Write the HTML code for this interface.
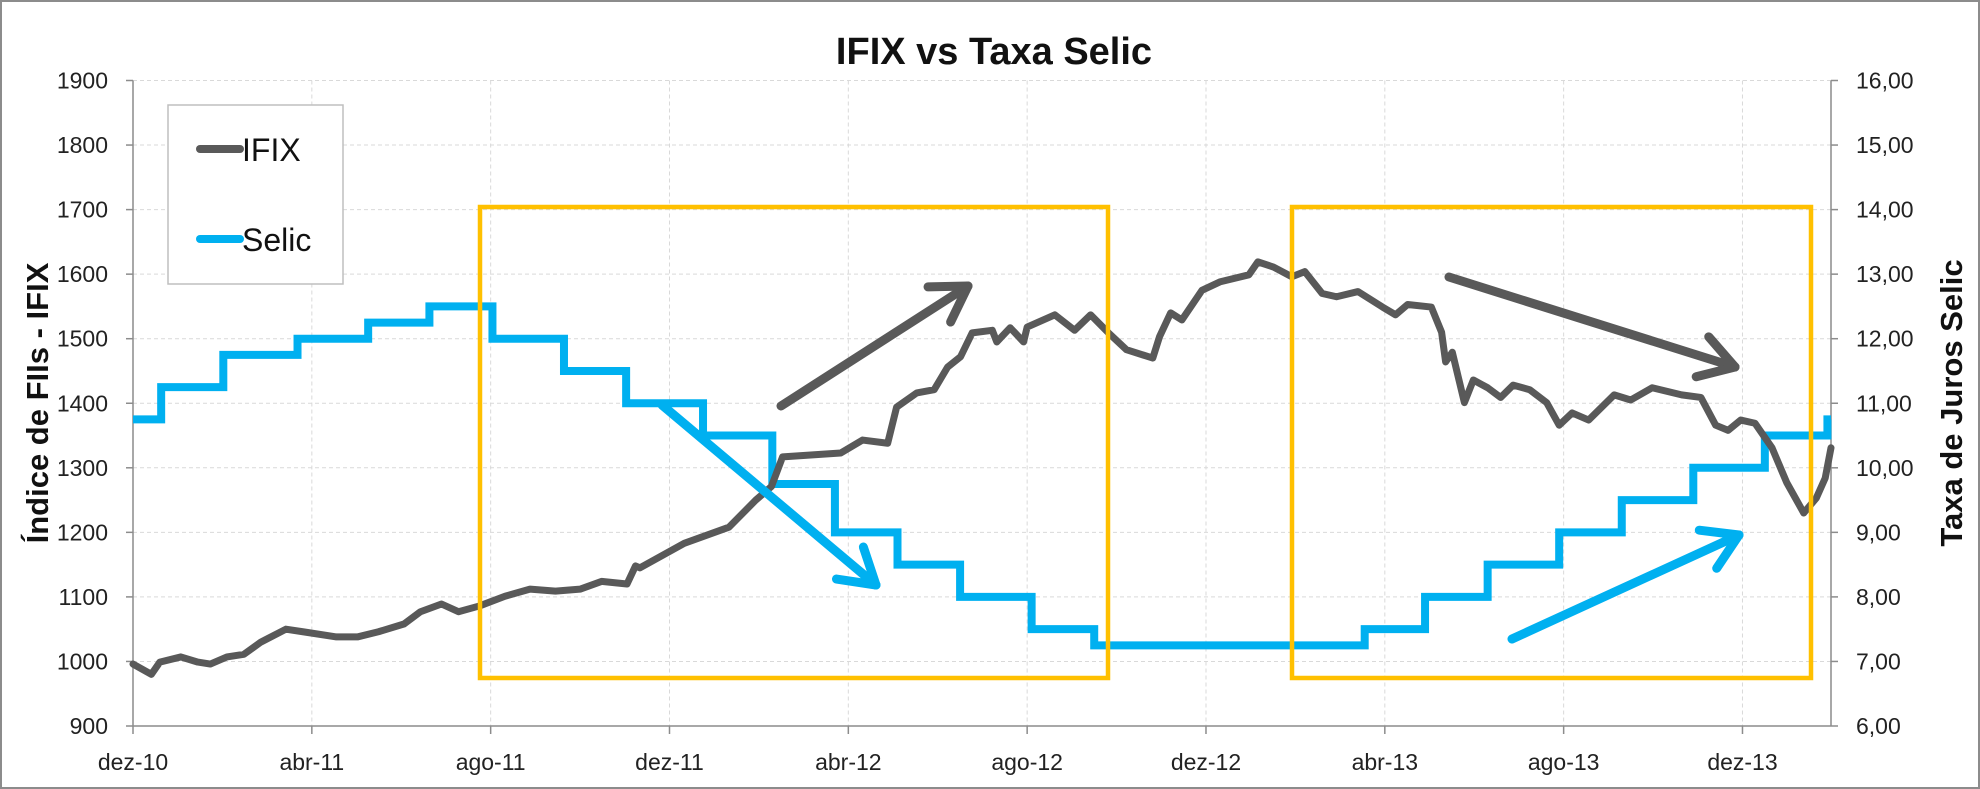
<!DOCTYPE html>
<html><head><meta charset="utf-8">
<style>
html,body{margin:0;padding:0;background:#fff;}
#wrap{position:relative;width:1980px;height:789px;overflow:hidden;background:#fff;}
svg text{font-family:"Liberation Sans",sans-serif;}
</style></head>
<body>
<div id="wrap">
<svg id="chart" width="1980" height="789" viewBox="0 0 1980 789" xmlns="http://www.w3.org/2000/svg">
  <rect x="1" y="1" width="1978" height="787" fill="#fff" stroke="#8c8c8c" stroke-width="2"/>
  <text x="994" y="64" text-anchor="middle" font-size="38" font-weight="bold" fill="#111">IFIX vs Taxa Selic</text>
  <g id="grid"></g>
  <g id="axes"></g>
  <g id="series"></g>
  <g id="annot"></g>
  <text transform="translate(48,403) rotate(-90)" text-anchor="middle" font-size="31" font-weight="bold" fill="#111">Índice de FIIs - IFIX</text>
  <text transform="translate(1962,403) rotate(-90)" text-anchor="middle" font-size="31" font-weight="bold" fill="#111">Taxa de Juros Selic</text>
  <g>
    <rect x="168" y="105" width="175" height="179" fill="#fff" stroke="#bfbfbf" stroke-width="1.5"/>
    <line x1="200" y1="149" x2="240" y2="149" stroke="#595959" stroke-width="8" stroke-linecap="round"/>
    <text x="242" y="161" font-size="32" fill="#111">IFIX</text>
    <line x1="200" y1="239" x2="240" y2="239" stroke="#00b0f0" stroke-width="8" stroke-linecap="round"/>
    <text x="242" y="251" font-size="32" fill="#111">Selic</text>
  </g>
</svg>
</div>
<script>
// ---- data ----
const xTickLabels = ["dez-10","abr-11","ago-11","dez-11","abr-12","ago-12","dez-12","abr-13","ago-13","dez-13"];
const xTickMonths = [0,4,8,12,16,20,24,28,32,36];
const leftTicks = [900,1000,1100,1200,1300,1400,1500,1600,1700,1800,1900];
const rightTicks = ["6,00","7,00","8,00","9,00","10,00","11,00","12,00","13,00","14,00","15,00","16,00"];
const ifixMonths = [0,0.41,0.6,1.07,1.45,1.73,2.1,2.48,2.86,3.42,3.8,4.55,5.02,5.49,6.06,6.43,6.9,7.28,7.75,8.32,8.88,9.45,10.0,10.48,11.05,11.24,11.34,12.33,13.33,13.93,14.28,14.53,15.83,16.32,16.88,17.08,17.53,17.92,18.22,18.51,18.77,19.22,19.32,19.62,19.92,20.0,20.62,21.06,21.42,21.82,22.22,22.81,22.96,23.21,23.46,23.91,24.31,24.96,25.16,25.51,25.92,26.21,26.6,26.92,27.4,27.95,28.24,28.51,29.04,29.27,29.36,29.51,29.78,29.98,30.3,30.59,30.87,31.24,31.62,31.9,32.19,32.56,33.13,33.5,33.98,34.64,35.07,35.4,35.68,35.96,36.28,36.66,36.99,37.37,37.65,37.85,37.98];
const ifixValues = [996,980,999,1007,999,996,1007,1011,1030,1050,1046,1038,1038,1046,1058,1077,1089,1077,1086,1101,1112,1109,1112,1124,1120,1148,1145,1183,1208,1250,1271,1317,1323,1343,1338,1394,1416,1421,1456,1472,1509,1513,1495,1517,1495,1518,1537,1513,1537,1509,1483,1470,1503,1540,1529,1575,1588,1599,1619,1611,1596,1604,1570,1565,1573,1549,1537,1553,1549,1510,1464,1479,1401,1436,1424,1409,1428,1421,1401,1366,1385,1374,1413,1405,1424,1413,1409,1366,1358,1374,1369,1331,1277,1230,1253,1284,1331];
const selicMonths = [0,0.63,2.02,3.68,5.26,6.63,8.04,9.64,11.03,12.75,14.3,15.7,17.1,18.5,20.1,21.5,27.55,28.9,30.3,31.9,33.3,34.9,36.5,37.9];
const selicValues = [10.75,11.25,11.75,12.0,12.25,12.5,12.0,11.5,11.0,10.5,9.75,9.0,8.5,8.0,7.5,7.25,7.5,8.0,8.5,9.0,9.5,10.0,10.5,10.75];
const xEnd = 37.98;

// ---- scales ----
const PL=133, PR=1831, PT=80.5, PB=726;
function xs(m){return PL+(m/xEnd)*(PR-PL);}
function yl(v){return PB-(v-900)/1000*(PB-PT);}
function yr(v){return PB-(v-6)/10*(PB-PT);}
const NS="http://www.w3.org/2000/svg";
function mk(tag,attrs,parent){const e=document.createElementNS(NS,tag);for(const k in attrs)e.setAttribute(k,attrs[k]);parent.appendChild(e);return e;}

const grid=document.getElementById('grid'), axes=document.getElementById('axes'), series=document.getElementById('series'), annot=document.getElementById('annot');

leftTicks.forEach((v,i)=>{
  const y=yl(v);
  if(i>0){const g=mk('line',{x1:PL,x2:PR,y1:y,y2:y,stroke:'#d9d9d9','stroke-width':1,'stroke-dasharray':'4,3'},grid);
  
  }
  const tk=mk('line',{x1:PL-7,x2:PL,y1:y,y2:y,stroke:'#8c8c8c','stroke-width':1.5},axes);
  
  
  const t=mk('text',{x:PL-25,y:y+8,'text-anchor':'end','font-size':23,fill:'#222'},axes);
  t.textContent=v;
  
  
});
rightTicks.forEach((s,i)=>{
  const y=yr(6+i);
  const tk=mk('line',{x1:PR,x2:PR+7,y1:y,y2:y,stroke:'#8c8c8c','stroke-width':1.5},axes);
  
  
  const t=mk('text',{x:PR+25,y:y+8,'text-anchor':'start','font-size':23,fill:'#222'},axes);
  t.textContent=s;
  
  
});
xTickMonths.forEach((m,i)=>{
  const x=xs(m);
  if(i>0){const g=mk('line',{x1:x,x2:x,y1:PT,y2:PB,stroke:'#d9d9d9','stroke-width':1,'stroke-dasharray':'4,3'},grid);
  
  }
  const tk=mk('line',{x1:x,x2:x,y1:PB,y2:PB+8,stroke:'#8c8c8c','stroke-width':1.5},axes);
  
  
  const t=mk('text',{x:x,y:770,'text-anchor':'middle','font-size':23,fill:'#222'},axes);
  t.textContent=xTickLabels[i];
  
  
});
const la=mk('line',{x1:PL,x2:PL,y1:PT,y2:PB,stroke:'#8c8c8c','stroke-width':1.5},axes);


const ra=mk('line',{x1:PR,x2:PR,y1:PT,y2:PB,stroke:'#8c8c8c','stroke-width':1.5},axes);


const xa=mk('line',{x1:PL,x2:PR,y1:PB,y2:PB,stroke:'#8c8c8c','stroke-width':1.5},axes);



// Selic step line
let d='';
selicMonths.forEach((m,i)=>{
  const x=xs(m), y=yr(selicValues[i]);
  if(i===0) d+='M'+x+','+y; else d+=' L'+x+','+yr(selicValues[i-1])+' L'+x+','+y;
});
d+=' L'+xs(xEnd)+','+yr(selicValues[selicValues.length-1]);
const sp=mk('path',{d:d,fill:'none',stroke:'#00b0f0','stroke-width':8,'stroke-linejoin':'miter'},series);



// IFIX line
const ip=mk('path',{d:ifixMonths.map((m,i)=>(i?'L':'M')+xs(m)+','+yl(ifixValues[i])).join(' '),fill:'none',stroke:'#595959','stroke-width':7,'stroke-linejoin':'round','stroke-linecap':'round'},series);



// highlight boxes
const b1=mk('rect',{x:480,y:207,width:628,height:471,fill:'none',stroke:'#ffc000','stroke-width':4.5},annot);


const b2=mk('rect',{x:1292,y:207,width:519,height:471,fill:'none',stroke:'#ffc000','stroke-width':4.5},annot);



// arrows
function arrow(x1,y1,x2,y2,col,name){
  const g=mk('g',{},annot);
  
  
  mk('line',{x1:x1,y1:y1,x2:x2,y2:y2,stroke:col,'stroke-width':9,'stroke-linecap':'round'},g);
  const a=Math.atan2(y2-y1,x2-x1), L=40, s=0.55;
  [a+Math.PI-s,a+Math.PI+s].forEach(b=>{
    mk('line',{x1:x2,y1:y2,x2:x2+L*Math.cos(b),y2:y2+L*Math.sin(b),stroke:col,'stroke-width':9,'stroke-linecap':'round'},g);
  });
}
arrow(781,406,968,286,'#595959','ifix-up-arrow');
arrow(662,405,876,585,'#00b0f0','selic-down-arrow');
arrow(1449,277,1735,367,'#595959','ifix-down-arrow');
arrow(1512,639,1739,535,'#00b0f0','selic-up-arrow');
</script>
</body></html>
